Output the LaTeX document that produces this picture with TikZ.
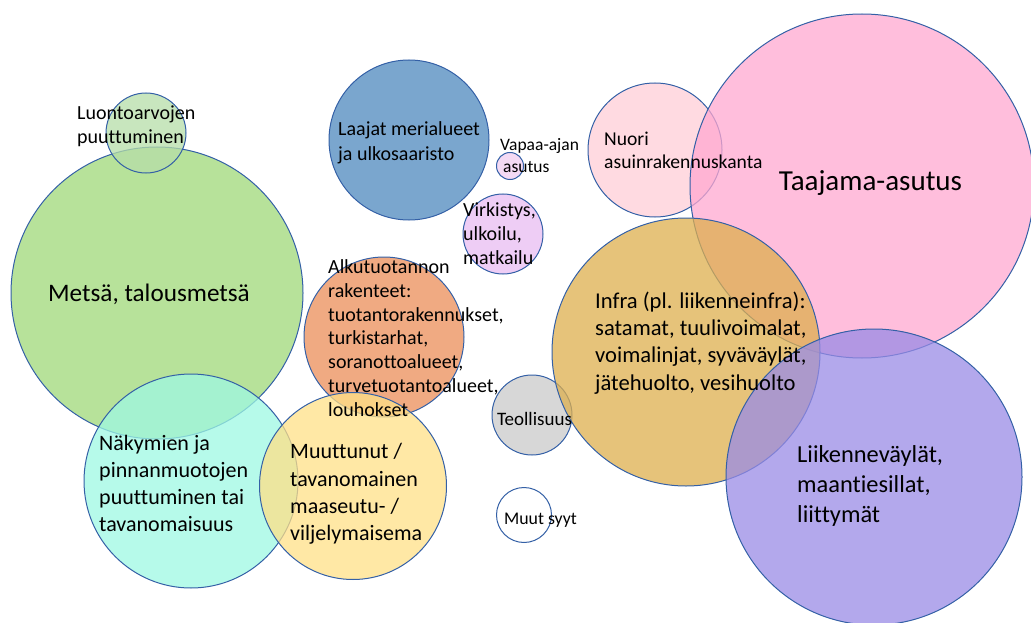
\documentclass[tikz,border=0pt]{standalone}
\usepackage{fontspec}
\setmainfont{Carlito}[Ligatures={NoCommon}]
\usetikzlibrary{positioning, shapes.geometric}

\definecolor{edgeblue}{RGB}{52,96,166}
\definecolor{cLuonto}{RGB}{182,222,168}
\definecolor{cMetsa}{RGB}{159,216,120}
\definecolor{cMeri}{RGB}{78,136,190}
\definecolor{cVapaa}{RGB}{240,205,240}
\definecolor{cVirk}{RGB}{232,188,242}
\definecolor{cAlku}{RGB}{235,142,88}
\definecolor{cNaky}{RGB}{158,248,227}
\definecolor{cMaas}{RGB}{255,224,135}
\definecolor{cTeol}{RGB}{202,202,202}
\definecolor{cNuori}{RGB}{255,206,215}
\definecolor{cTaaj}{RGB}{255,168,208}
\definecolor{cInfra}{RGB}{222,175,78}
\definecolor{cLiik}{RGB}{153,139,230}

\begin{document}
\begin{tikzpicture}[
    x=1pt, y=-1pt,
    bubble/.style={circle, draw=edgeblue, line width=1pt, inner sep=0pt, fill opacity=0.75, text opacity=1},
    lbl/.style={anchor=west, align=left, inner sep=0pt, text=black},
    fs/.style 2 args={font=\fontsize{#1}{#2}\selectfont}
]
\useasboundingbox (0,0) rectangle (1031,623);

% ============ CIRCLES ============
\node[bubble, fill=cMetsa, minimum size=292pt] (metsa) at (157,293) {};
\node[bubble, fill=cLuonto, minimum size=80pt] (luonto) at (146,133) {};
\node[bubble, fill=cMeri, minimum size=160pt] (meri) at (409,140) {};
\node[bubble, fill=cVapaa, minimum size=27pt] (vapaa) at (510,166) {};
\node[bubble, fill=cVirk, minimum size=80pt] (virk) at (503,234) {};
\node[bubble, fill=cAlku, minimum size=160pt] (alku) at (384,337) {};
\node[bubble, fill=cNaky, minimum size=214pt] (naky) at (191,481) {};
\node[bubble, fill=cMaas, minimum size=187pt] (maas) at (353,486) {};
\node[bubble, fill=cTeol, minimum size=80pt] (teol) at (532,415) {};
\node[bubble, fill=white, minimum size=55pt] (muut) at (524,515) {};
\node[bubble, fill=cNuori, minimum size=134pt] (nuori) at (655,150) {};
\node[bubble, fill=cTaaj, minimum size=344pt] (taaj) at (862,186) {};
\node[bubble, fill=cInfra, minimum size=268pt] (infra) at (686,352) {};
\node[bubble, fill=cLiik, minimum size=296pt] (liik) at (874,477) {};

% ============ LABELS ============
\node[lbl, fs={20}{24}] (luontoT) at (77,126) {Luontoarvojen\\puuttuminen};
\node[lbl, fs={25.2}{30}] (metsaT) at (48,294) {Metsä, talousmetsä};
\node[lbl, fs={20}{25}] (meriT) at (338,143) {Laajat merialueet\\ja ulkosaaristo};
\node[lbl, fs={17.5}{22}] (vapaaT) at (500,156) {Vapaa-ajan\\\,asutus};
\node[lbl, fs={20}{24}] (virkT) at (463,234) {Virkistys,\\ulkoilu,\\matkailu};
\node[lbl, fs={20}{23.8}] (alkuT) at (328,338) {Alkutuotannon\\rakenteet:\\tuotantorakennukset,\\turkistarhat,\\soranottoalueet,\\turvetuotantoalueet,\\louhokset};
\node[lbl, fs={22}{27}] (nakyT) at (99,483) {Näkymien ja\\pinnanmuotojen\\puuttuminen tai\\tavanomaisuus};
\node[lbl, fs={22}{27.3}] (maasT) at (290,494) {Muuttunut /\\tavanomainen\\maaseutu- /\\viljelymaisema};
\node[fs={19}{22}, inner sep=0pt] (teolT) at (534.5,419) {Teollisuus};
\node[fs={17.8}{20}, inner sep=0pt] (muutT) at (540.5,520) {Muut syyt};
\node[lbl, fs={19.6}{23}] (nuoriT) at (604,150) {Nuori\\asuinrakennuskanta};
\node[fs={29}{32}, inner sep=0pt] (taajT) at (870.5,183) {Taajama-asutus};
\node[lbl, fs={22.6}{27.3}] (infraT) at (595,343) {Infra (pl. liikenneinfra):\\satamat, tuulivoimalat,\\voimalinjat, syväväylät,\\jätehuolto, vesihuolto};
\node[lbl, fs={24.4}{30}] (liikT) at (797,486) {Liikenneväylät,\\maantiesillat,\\liittymät};

\end{tikzpicture}
\end{document}
